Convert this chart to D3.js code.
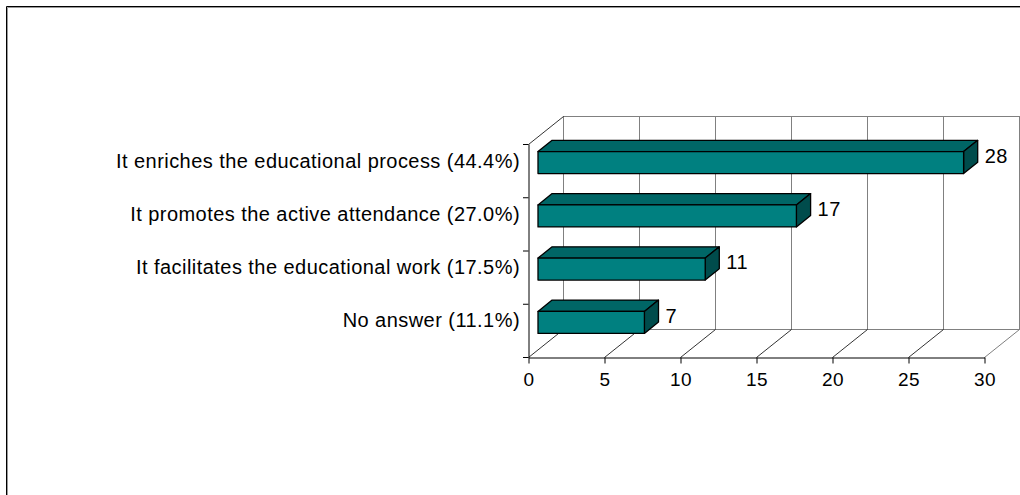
<!DOCTYPE html>
<html><head><meta charset="utf-8">
<script src="https://cdn.jsdelivr.net/npm/d3@7"></script>
<style>body{margin:0;background:#fff;} svg{display:block;font-family:"Liberation Sans",Arial,sans-serif;}</style>
</head><body>
<svg id="c" width="1020" height="495"></svg>
<script>
const categories = [
  "It enriches the educational process (44.4%)",
  "It promotes the active attendance (27.0%)",
  "It facilitates the educational work (17.5%)",
  "No answer (11.1%)"
];
const values = [28, 17, 11, 7];
const xTicks = [0, 5, 10, 15, 20, 25, 30];

const svg = d3.select("#c");
// frame
svg.append("path").attr("d","M6.5,1100V6.5H1100").attr("fill","none").attr("stroke","#000").attr("stroke-width",1);
svg.append("path").attr("d","M7.5,1100V7.5H1100").attr("fill","none").attr("stroke","#999").attr("stroke-width",1);

const x = d3.scaleLinear().domain([0,30]).range([528,984]);
const y = d3.scaleBand().domain(categories).range([144,357]);
const DX = 35, DY = -28;         // full depth offset
const f0 = 0.286, f1 = 0.69;     // bar depth fractions
const barH = 22;
const P = (px,py,f) => [px + DX*f, py + DY*f];

const g = svg.append("g");
const yTop = 144, yBot = 357;
// back wall
g.append("rect").attr("x",x(0)+DX+0.5).attr("y",yTop+DY+0.5).attr("width",x(30)-x(0)).attr("height",yBot-yTop)
  .attr("fill","none").attr("stroke","#808080");
// back wall gridlines
g.selectAll(".vg").data(xTicks.slice(1,-1)).join("line")
  .attr("x1",d=>x(d)+DX+0.5).attr("x2",d=>x(d)+DX+0.5)
  .attr("y1",yTop+DY).attr("y2",yBot+DY).attr("stroke","#808080");
// floor diagonals
g.selectAll(".fd").data(xTicks.slice(0,-1)).join("line")
  .attr("x1",d=>x(d)+0.5).attr("y1",yBot+0.5).attr("x2",d=>x(d)+DX+0.5).attr("y2",yBot+DY+0.5)
  .attr("stroke","#000").attr("stroke-width",0.8);
g.append("line").attr("x1",x(30)+0.5).attr("y1",yBot+0.5).attr("x2",x(30)+DX+0.5).attr("y2",yBot+DY+0.5)
  .attr("stroke","#808080");
// top-left diagonal
g.append("line").attr("x1",x(0)+0.5).attr("y1",yTop+0.5).attr("x2",x(0)+DX+0.5).attr("y2",yTop+DY+0.5)
  .attr("stroke","#000").attr("stroke-width",0.8);

// bars
const bars = g.selectAll(".bar").data(values.map((v,i)=>({v,c:categories[i]}))).join("g");
bars.each(function(d){
  const gg = d3.select(this);
  const cy = y(d.c) + y.bandwidth()/2;
  const t = cy - barH/2, b = cy + barH/2;
  const x0 = x(0), x1 = x(d.v);
  const A = P(x0,t,f0), B = P(x1,t,f0), C = P(x1,b,f0), D = P(x0,b,f0);
  const A2 = P(x0,t,f1), B2 = P(x1,t,f1), C2 = P(x1,b,f1);
  const pt = p => p.map(v=>v.toFixed(1)).join(",");
  gg.append("polygon").attr("points",[A,B,B2,A2].map(pt).join(" ")).attr("fill","#006666").attr("stroke","#000").attr("stroke-width",1.3).attr("stroke-linejoin","round");
  gg.append("polygon").attr("points",[B,C,C2,B2].map(pt).join(" ")).attr("fill","#004c4c").attr("stroke","#000").attr("stroke-width",1.3).attr("stroke-linejoin","round");
  gg.append("polygon").attr("points",[A,B,C,D].map(pt).join(" ")).attr("fill","#008080").attr("stroke","#000").attr("stroke-width",1.3).attr("stroke-linejoin","round");
  gg.append("text").attr("x",B2[0]+7).attr("y",(B2[1]+C[1])/2+6).attr("font-size",20).attr("letter-spacing",0.5).attr("fill","#000").text(d.v);
});

// left axis
const yAxis = d3.axisLeft(y).tickValues([]).tickSizeOuter(0);
const ya = g.append("g").attr("transform",`translate(${x(0)+0.5},0)`).call(yAxis);
ya.select(".domain").attr("stroke","#000");
const bounds = [0,1,2,3].map(i=>y(categories[i])).concat([yBot]);
g.selectAll(".lt").data(bounds).join("line").attr("x1",x(0)-5).attr("x2",x(0)+0.5)
  .attr("y1",d=>d+0.5).attr("y2",d=>d+0.5).attr("stroke","#000");
g.selectAll(".cl").data(categories).join("text")
  .attr("x",x(0)-8).attr("y",d=>y(d)+y.bandwidth()/2-3).attr("text-anchor","end")
  .attr("font-size",20).attr("letter-spacing",0.45).attr("fill","#000").text(d=>d);

// bottom axis
const xAxis = d3.axisBottom(x).tickValues(xTicks).tickSize(6).tickPadding(9).tickSizeOuter(0);
const xa = g.append("g").attr("transform",`translate(0.5,${yBot+0.5})`).call(xAxis);
xa.select(".domain").attr("stroke","#000");
xa.selectAll(".tick line").attr("stroke","#000");
xa.selectAll(".tick text").attr("font-size",19).attr("letter-spacing",0.5).attr("fill","#000").attr("font-family","Liberation Sans, Arial, sans-serif");
</script>
</body></html>
